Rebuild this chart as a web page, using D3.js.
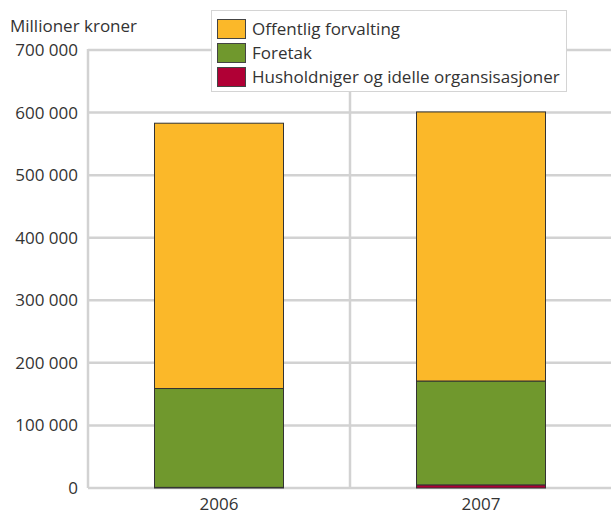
<!DOCTYPE html>
<html>
<head>
<meta charset="utf-8">
<script src="https://cdn.jsdelivr.net/npm/d3@7"></script>
<style>
  body { margin: 0; background: #fff; }
  text { font-family: "Open Sans", sans-serif; fill: #333; }
</style>
</head>
<body>
<script>
// data
var years = ["2006", "2007"];
var seriesNames = ["Husholdniger og idelle organsisasjoner", "Foretak", "Offentlig forvalting"];
var husholdninger = [1000, 5000];
var foretak = [158000, 166000];
var offentlig = [424000, 430000];
var yTicks = [0, 100000, 200000, 300000, 400000, 500000, 600000, 700000];
var colors = ["#b00035", "#70982d", "#fbb829"];

var w = 611, h = 516;
var m = {left: 88, right: 0, top: 50, bottom: 28};

var svg = d3.select("body").append("svg")
    .attr("width", w)
    .attr("height", h);

var x = d3.scaleBand().domain(years).range([m.left, w + 1]).paddingInner(0).paddingOuter(0);
var y = d3.scaleLinear().domain([0, 700000]).range([h - m.bottom, m.top]);

var fmt = function(v) { return d3.format(",")(v).replace(/,/g, " "); };

// grid
svg.selectAll("line.hg").data(yTicks).enter().append("line")
    .attr("x1", m.left).attr("x2", w)
    .attr("y1", function(d) { return y(d); })
    .attr("y2", function(d) { return y(d); })
    .attr("stroke", "#d2d2d2").attr("stroke-width", 2.5);

var vlines = [m.left, x(years[1])];
svg.selectAll("line.vg").data(vlines).enter().append("line")
    .attr("x1", function(d) { return d; }).attr("x2", function(d) { return d; })
    .attr("y1", y(700000) - 1).attr("y2", y(0))
    .attr("stroke", "#d2d2d2").attr("stroke-width", 2.5);

// y labels
svg.selectAll("text.yl").data(yTicks).enter().append("text")
    .attr("x", 78).attr("y", function(d) { return y(d) + 6; })
    .attr("text-anchor", "end")
    .attr("font-size", "17px")
    .text(fmt);

svg.append("text").attr("x", 10).attr("y", 32)
    .attr("font-size", "17px").text("Millioner kroner");

// x labels
svg.selectAll("text.xl").data(years).enter().append("text")
    .attr("x", function(d) { return x(d) + x.bandwidth() / 2; })
    .attr("y", 510)
    .attr("text-anchor", "middle")
    .attr("font-size", "17px")
    .text(function(d) { return d; });

// stacked bars
var table = years.map(function(yr, i) {
  return {year: yr, h: husholdninger[i], f: foretak[i], o: offentlig[i]};
});
var stack = d3.stack().keys(["h", "f", "o"]);
var layers = stack(table);
var barW = 129;

svg.selectAll("g.layer").data(layers).enter().append("g")
    .attr("fill", function(d, i) { return colors[i]; })
  .selectAll("rect").data(function(d) { return d; }).enter().append("rect")
    .attr("x", function(d) { return x(d.data.year) + x.bandwidth() / 2 - barW / 2; })
    .attr("width", barW)
    .attr("y", function(d) { return y(d[1]); })
    .attr("height", function(d) { return y(d[0]) - y(d[1]); })
    .attr("stroke", "#333")
    .attr("stroke-width", 1);

// legend
var lg = svg.append("g");
lg.append("rect").attr("x", 211.5).attr("y", 10.5).attr("width", 355).attr("height", 81)
    .attr("fill", "#fff").attr("stroke", "#d4d4d4").attr("stroke-width", 1);
var order = [2, 1, 0];
order.forEach(function(k, i) {
  lg.append("rect").attr("x", 217.5).attr("y", 19.5 + i * 24).attr("width", 28).attr("height", 19)
      .attr("fill", colors[k]).attr("stroke", "#444");
  lg.append("text").attr("x", 252).attr("y", 35 + i * 24)
      .attr("font-size", "17px").text(seriesNames[k]);
});
</script>
</body>
</html>
